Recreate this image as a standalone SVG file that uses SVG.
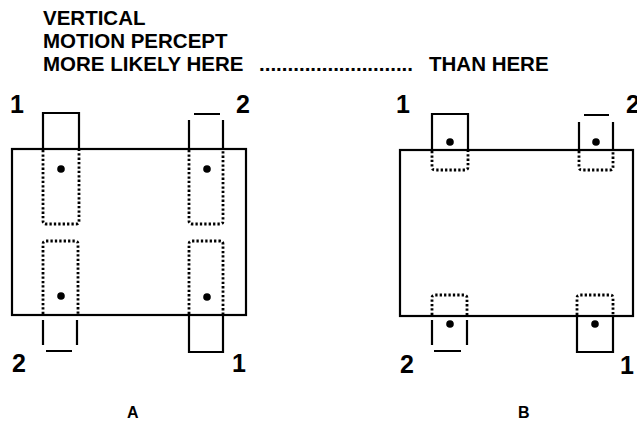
<svg xmlns="http://www.w3.org/2000/svg" width="637" height="425" viewBox="0 0 637 425">
  <style>
    .txt { font-family: "Liberation Sans", Arial, sans-serif; font-weight: bold; fill: #000; }
    .title { font-size: 20.5px; }
    .num { font-size: 25px; }
    .cap { font-size: 16px; }
    .solid { fill: none; stroke: #000; stroke-width: 2.2; }
    .dotted { fill: none; stroke: #000; stroke-width: 2.8; stroke-dasharray: 2.3 2.1; }
    .spot { fill: #000; }
  </style>
  <rect width="637" height="425" fill="#fff"/>

  <!-- heading -->
  <g id="heading" class="txt title">
    <text x="43" y="25">VERTICAL</text>
    <text x="43" y="48">MOTION PERCEPT</text>
    <text x="43" y="71">MORE LIKELY HERE</text>
    <text x="259" y="71" textLength="154" lengthAdjust="spacing">...........................</text>
    <text x="429" y="71">THAN HERE</text>
  </g>

  <!-- panel A -->
  <g id="panelA">
    <rect class="solid" x="12" y="149" width="234" height="166"/>
    <!-- top left: solid tab, tall dotted window -->
    <g id="A-top-left">
      <path class="solid" d="M43,149 V113 H79 V149"/>
      <path class="dotted" d="M43,150 V221 Q43,224 46,224 H76 Q79,224 79,221 V150"/>
      <circle class="spot" cx="61" cy="169" r="3.8"/>
      <text class="txt num" x="10" y="113">1</text>
    </g>
    <!-- top right: open tab, tall dotted window -->
    <g id="A-top-right">
      <path class="solid" d="M189,120 V149 M223,120 V149 M194,114 H220"/>
      <path class="dotted" d="M189,150 V221 Q189,224 192,224 H220 Q223,224 223,221 V150"/>
      <circle class="spot" cx="207" cy="169" r="3.8"/>
      <text class="txt num" x="236" y="113">2</text>
    </g>
    <!-- bottom left: open tab, tall dotted window -->
    <g id="A-bottom-left">
      <path class="dotted" d="M43,314 V244 Q43,241 46,241 H75 Q78,241 78,244 V314"/>
      <path class="solid" d="M43,320 V345 M77,320 V345 M46,351 H72"/>
      <circle class="spot" cx="61" cy="296" r="3.8"/>
      <text class="txt num" x="12" y="372">2</text>
    </g>
    <!-- bottom right: solid tab, tall dotted window -->
    <g id="A-bottom-right">
      <path class="dotted" d="M189,314 V244 Q189,241 192,241 H220 Q223,241 223,244 V314"/>
      <path class="solid" d="M189,315 V352 H223 V315"/>
      <circle class="spot" cx="207" cy="297" r="3.8"/>
      <text class="txt num" x="232" y="372">1</text>
    </g>
    <text class="txt cap" x="127" y="418">A</text>
  </g>

  <!-- panel B -->
  <g id="panelB">
    <rect class="solid" x="400" y="150" width="233" height="166"/>
    <g id="B-top-left">
      <path class="solid" d="M432,150 V114 H468 V150"/>
      <path class="dotted" d="M432,151 V167 Q432,170 435,170 H465 Q468,170 468,167 V151"/>
      <circle class="spot" cx="450" cy="142" r="3.8"/>
      <text class="txt num" x="396" y="113">1</text>
    </g>
    <g id="B-top-right">
      <path class="solid" d="M579,122 V150 M613,122 V150 M584,115 H609"/>
      <path class="dotted" d="M579,151 V167 Q579,170 582,170 H610 Q613,170 613,167 V151"/>
      <circle class="spot" cx="596" cy="142" r="3.8"/>
      <text class="txt num" x="626" y="113">2</text>
    </g>
    <g id="B-bottom-left">
      <path class="dotted" d="M432,315 V298 Q432,295 435,295 H464 Q467,295 467,298 V315"/>
      <path class="solid" d="M432,320 V345 M467,320 V345 M434,351 H461"/>
      <circle class="spot" cx="450" cy="324" r="3.8"/>
      <text class="txt num" x="400" y="373">2</text>
    </g>
    <g id="B-bottom-right">
      <path class="dotted" d="M577,315 V298 Q577,295 580,295 H610 Q613,295 613,298 V315"/>
      <path class="solid" d="M577,316 V352 H613 V316"/>
      <circle class="spot" cx="595" cy="324" r="3.8"/>
      <text class="txt num" x="620" y="374">1</text>
    </g>
    <text class="txt cap" x="518" y="418">B</text>
  </g>
</svg>
